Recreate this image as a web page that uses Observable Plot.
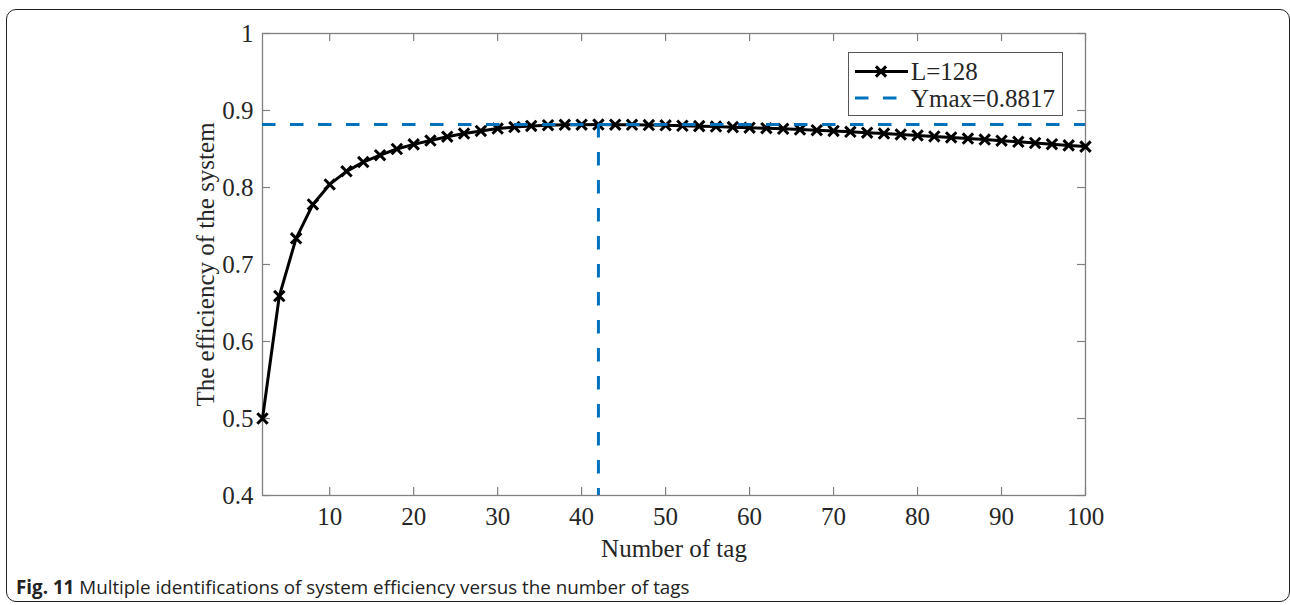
<!DOCTYPE html>
<html><head><meta charset="utf-8">
<script src="https://cdn.jsdelivr.net/npm/d3@7"></script>
<script src="https://cdn.jsdelivr.net/npm/@observablehq/plot@0.6"></script>
<style>
body{margin:0;background:#fff;}
#wrap{position:relative;width:1290px;height:605px;overflow:hidden;}
#border{position:absolute;left:6px;top:9px;width:1284px;height:593px;border:1.5px solid #222;border-radius:10px;box-sizing:border-box;}
#chart{position:absolute;left:0;top:0;}
#caption{position:absolute;left:16px;top:575px;font-family:"Open Sans";font-size:18.8px;color:#222;white-space:nowrap;line-height:24px;}
#legend{position:absolute;left:848px;top:52px;width:215px;height:64px;border:1px solid #555;background:#fff;box-sizing:border-box;}
</style>
</head><body>
<div id="wrap">
  <div id="border"></div>
  <div id="chart"></div>
  <div id="legend"></div>
  <div id="caption"></div>
</div>
<script>
const tagCounts = [2,4,6,8,10,12,14,16,18,20,22,24,26,28,30,32,34,36,38,40,42,44,46,48,50,52,54,56,58,60,62,64,66,68,70,72,74,76,78,80,82,84,86,88,90,92,94,96,98,100];
const efficiency = [0.500,0.659,0.734,0.778,0.804,0.821,0.833,0.842,0.850,0.856,0.861,0.866,0.870,0.8735,0.8765,0.8785,0.8800,0.8809,0.8814,0.8816,0.8817,0.8816,0.8814,0.8811,0.8807,0.8802,0.8797,0.8791,0.8784,0.8777,0.8770,0.8762,0.8753,0.8744,0.8734,0.8723,0.8712,0.8701,0.8689,0.8676,0.8663,0.8650,0.8636,0.8622,0.8608,0.8593,0.8578,0.8563,0.8547,0.8531];
const yMax = 0.8817;
const xAtMax = 42;
const xTicks = [10,20,30,40,50,60,70,80,90,100];
const yTicks = [0.4,0.5,0.6,0.7,0.8,0.9,1];
const yTickLabels = ["0.4","0.5","0.6","0.7","0.8","0.9","1"];
const seriesLabel = "L=128";
const maxLabel = "Ymax=0.8817";
const xLabel = "Number of tag";
const yLabel = "The efficiency of the system";
const captionBold = "Fig. 11";
const captionText = " Multiple identifications of system efficiency versus the number of tags";

const data = tagCounts.map((x, i) => ({x, y: efficiency[i]}));

const W = 1290, H = 565;
const mL = 262, mR = 205, mT = 33, mB = 70;
const fw = W - mL - mR, fh = H - mT - mB;
const axisGray = "#808080";
const txt = "#262626";
const blue = "#0072BD";
const dash = "13.5,14.5";
const FS = 25;

const chart = Plot.plot({
  width: W, height: H,
  marginLeft: mL, marginRight: mR, marginTop: mT, marginBottom: mB,
  x: {domain: [2, 100]},
  y: {domain: [0.4, 1]},
  style: {fontFamily: "Liberation Serif", fontSize: FS + "px", color: txt, background: "transparent", overflow: "visible"},
  marks: [
    Plot.ruleX(xTicks, {x: d => d, insetTop: fh - 8, stroke: axisGray, strokeWidth: 1.2}),
    Plot.ruleX(xTicks, {x: d => d, insetBottom: fh - 8, stroke: axisGray, strokeWidth: 1.2}),
    Plot.ruleY(yTicks, {y: d => d, insetRight: fw - 8, stroke: axisGray, strokeWidth: 1.2}),
    Plot.ruleY(yTicks, {y: d => d, insetLeft: fw - 8, stroke: axisGray, strokeWidth: 1.2}),
    Plot.frame({stroke: axisGray, strokeWidth: 1.3}),
    Plot.axisX({ticks: xTicks, tickSize: 0, tickPadding: 12, label: null, fill: txt, fontSize: FS}),
    Plot.axisY({ticks: yTicks, tickSize: 0, tickPadding: 9, label: null, fill: txt, fontSize: FS,
      tickFormat: d => yTickLabels[yTicks.findIndex(t => Math.abs(t - d) < 1e-9)]}),
    Plot.text([xLabel], {frameAnchor: "bottom", dy: 53, text: d => d, fill: txt, fontSize: FS, lineAnchor: "middle"}),
    Plot.text([yLabel], {frameAnchor: "left", dx: -57, rotate: -90, text: d => d, fill: txt, fontSize: FS, textAnchor: "middle", lineAnchor: "middle"}),
    Plot.line(data, {x: "x", y: "y", stroke: "black", strokeWidth: 3}),
    Plot.dot(data, {x: "x", y: "y", symbol: "times", r: 4.8, stroke: "black", strokeWidth: 3}),
    Plot.ruleY([yMax], {y: d => d, x1: 2, x2: 100, stroke: blue, strokeWidth: 3, strokeDasharray: dash}),
    Plot.ruleX([xAtMax], {x: d => d, y1: yMax, y2: 0.4, stroke: blue, strokeWidth: 3, strokeDasharray: dash})
  ]
});
document.getElementById("chart").appendChild(chart);

// legend
const lg = d3.select("#legend").append("svg").attr("width", 213).attr("height", 62)
  .style("font-family", "Liberation Serif").style("font-size", FS + "px");
lg.append("line").attr("x1", 6).attr("x2", 59).attr("y1", 18.5).attr("y2", 18.5)
  .attr("stroke", "black").attr("stroke-width", 3);
lg.append("path").attr("d", d3.symbol(d3.symbolTimes, 70)()).attr("transform", "translate(32,18.5)")
  .attr("stroke", "black").attr("stroke-width", 3).attr("fill", "none");
lg.append("text").attr("x", 62).attr("y", 18.5).attr("dy", "0.35em").attr("fill", txt).text(seriesLabel);
lg.append("line").attr("x1", 6).attr("x2", 59).attr("y1", 45).attr("y2", 45)
  .attr("stroke", blue).attr("stroke-width", 3).attr("stroke-dasharray", dash);
lg.append("text").attr("x", 62).attr("y", 45).attr("dy", "0.35em").attr("fill", txt).text(maxLabel);

const cap = document.getElementById("caption");
const b = document.createElement("b"); b.textContent = captionBold; b.style.fontWeight = "700";
cap.appendChild(b);
cap.appendChild(document.createTextNode(captionText));
</script>
</body></html>
